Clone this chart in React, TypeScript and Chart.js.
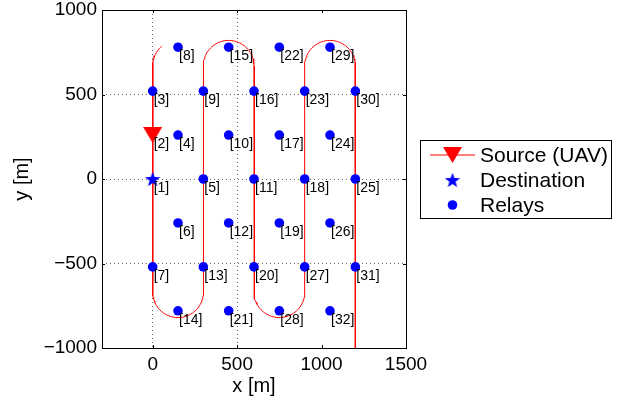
import React, { useEffect, useRef } from 'react';
import { Chart, registerables } from 'chart.js';

Chart.register(...registerables);

const FONT = '"Liberation Sans", Arial, Helvetica, sans-serif';

// Node coordinates [m]; node 1 = destination, node 2 = source, nodes 3..32 = relays
const NODE_X = [0, 0, 0, 150, 300, 150, 0, 150, 300, 450, 600, 450, 300, 150, 450, 600, 750, 900, 750, 600, 450, 750, 900, 1050, 1200, 1050, 900, 750, 1050, 1200, 1200, 1050];
const NODE_Y = [0, 260, 520, 260, 0, -260, -520, 780, 520, 260, 0, -260, -520, -780, 780, 520, 260, 0, -260, -520, -780, 780, 520, 260, 0, -260, -520, -780, 780, 520, -520, -780];
const DEST_INDEX = 0;
const SOURCE_INDEX = 1;

// Axes
const X_MIN = -300;
const X_MAX = 1500;
const Y_MIN = -1000;
const Y_MAX = 1000;
const X_TICKS = [0, 500, 1000, 1500];
const Y_TICKS = [-1000, -500, 0, 500, 1000];

// UAV trajectory: turn circles (centres), radius, start angle on first turn, end point
const TURN_X = [150, 150, 450, 750, 1050];
const TURN_Y = [670, -670, 670, -670, 670];
const TURN_RADIUS = 150;
const PATH_START_DEG = 130;
const PATH_END_X = 1200;
const PATH_END_Y = -1000;

const LEGEND_LABELS = ['Source (UAV)', 'Destination', 'Relays'];

function buildPath() {
  const pts: { x: number; y: number }[] = [];
  TURN_X.forEach((cx, i) => {
    const cy = TURN_Y[i];
    let a0: number, a1: number;
    if (i === 0) { a0 = PATH_START_DEG; a1 = 180; }
    else if (cy < 0) { a0 = 180; a1 = 360; }
    else { a0 = 180; a1 = 0; }
    const steps = Math.max(2, Math.round(Math.abs(a1 - a0) / 4));
    for (let k = 0; k <= steps; k++) {
      const a = ((a0 + ((a1 - a0) * k) / steps) * Math.PI) / 180;
      pts.push({ x: cx + TURN_RADIUS * Math.cos(a), y: cy + TURN_RADIUS * Math.sin(a) });
    }
  });
  pts.push({ x: PATH_END_X, y: PATH_END_Y });
  return pts;
}

function makeTriangle(color: string) {
  const c = document.createElement('canvas');
  c.width = 19; c.height = 16;
  const g = c.getContext('2d')!;
  g.fillStyle = color;
  g.beginPath();
  g.moveTo(0, 0); g.lineTo(19, 0); g.lineTo(9.5, 16); g.closePath();
  g.fill();
  return c;
}

function makeStar(color: string) {
  const c = document.createElement('canvas');
  c.width = 16; c.height = 16;
  const g = c.getContext('2d')!;
  g.fillStyle = color;
  g.beginPath();
  const R = 8, r = 3.3, cx = 8, cy = 8.7;
  for (let k = 0; k < 10; k++) {
    const rad = k % 2 === 0 ? R : r;
    const a = -Math.PI / 2 + (k * Math.PI) / 5;
    const px = cx + rad * Math.cos(a), py = cy + rad * Math.sin(a);
    if (k === 0) g.moveTo(px, py); else g.lineTo(px, py);
  }
  g.closePath();
  g.fill();
  return c;
}

const fmt = (v: any) => (Number(v) < 0 ? '\u2212' + Math.abs(Number(v)) : String(v));

export default function App() {
  const ref = useRef<HTMLCanvasElement | null>(null);

  useEffect(() => {
    const canvas = ref.current;
    if (!canvas) return;
    const tri = makeTriangle('#ff0000');
    const star = makeStar('#0000ff');

    const relays = NODE_X.map((x, i) => ({ x, y: NODE_Y[i], i })).filter((p) => p.i !== DEST_INDEX && p.i !== SOURCE_INDEX);

    const boxPlugin = {
      id: 'matlabBox',
      afterDatasetsDraw(chart: any) {
        const { ctx, scales } = chart;
        const xs = scales.x, ys = scales.y;
        ctx.save();
        ctx.font = `14px ${FONT}`;
        ctx.fillStyle = '#000';
        ctx.textAlign = 'left';
        ctx.textBaseline = 'middle';
        NODE_X.forEach((x, i) => {
          const px = xs.getPixelForValue(x);
          const py = ys.getPixelForValue(NODE_Y[i]);
          ctx.fillText(`[${i + 1}]`, px + 1, py + 9);
        });
        ctx.restore();
      },
      afterDraw(chart: any) {
        const { ctx, chartArea: a, scales } = chart;
        const xs = scales.x, ys = scales.y;
        ctx.save();
        ctx.strokeStyle = '#000';
        ctx.lineWidth = 1;
        ctx.strokeRect(Math.round(a.left) + 0.5, Math.round(a.top) + 0.5, Math.round(a.right - a.left), Math.round(a.bottom - a.top));
        ctx.beginPath();
        X_TICKS.forEach((v) => {
          const px = Math.round(xs.getPixelForValue(v)) + 0.5;
          ctx.moveTo(px, a.bottom); ctx.lineTo(px, a.bottom - 3);
          ctx.moveTo(px, a.top); ctx.lineTo(px, a.top + 3);
        });
        Y_TICKS.forEach((v) => {
          const py = Math.round(ys.getPixelForValue(v)) + 0.5;
          ctx.moveTo(a.left, py); ctx.lineTo(a.left + 3, py);
          ctx.moveTo(a.right, py); ctx.lineTo(a.right - 3, py);
        });
        ctx.stroke();

        // legend
        const L = 420.5, T = 140.5, W = 191, H = 78;
        ctx.fillStyle = '#fff';
        ctx.fillRect(L, T, W, H);
        ctx.strokeRect(L, T, W, H);
        const rows = [155, 180, 205];
        const mx = 452.5;
        const ds = chart.data.datasets;
        ctx.strokeStyle = ds[3].borderColor;
        ctx.lineWidth = 1;
        ctx.beginPath();
        ctx.moveTo(430, rows[0]); ctx.lineTo(475, rows[0]);
        ctx.stroke();
        ctx.drawImage(tri, mx - tri.width / 2, rows[0] - tri.height / 2);
        ctx.drawImage(star, mx - star.width / 2, rows[1] - star.height / 2);
        ctx.fillStyle = ds[2].backgroundColor;
        ctx.beginPath();
        ctx.arc(mx, rows[2], 4.8, 0, Math.PI * 2);
        ctx.fill();
        ctx.fillStyle = '#000';
        ctx.font = `21px ${FONT}`;
        ctx.textAlign = 'left';
        ctx.textBaseline = 'middle';
        LEGEND_LABELS.forEach((t, k) => ctx.fillText(t, 480, rows[k] + 1));
        ctx.restore();
      },
    };

    const gridColor = (c: any) => {
      const v = c.tick ? c.tick.value : 0;
      return v === X_MAX || v === Y_MAX || v === Y_MIN || v === X_MIN ? 'rgba(0,0,0,0)' : 'rgba(0,0,0,0.6)';
    };

    const chart = new Chart(canvas, {
      type: 'scatter',
      data: {
        datasets: [
          {
            label: LEGEND_LABELS[0],
            data: [{ x: NODE_X[SOURCE_INDEX], y: NODE_Y[SOURCE_INDEX] }],
            pointStyle: tri as any,
            order: 0,
          },
          {
            label: LEGEND_LABELS[1],
            data: [{ x: NODE_X[DEST_INDEX], y: NODE_Y[DEST_INDEX] }],
            pointStyle: star as any,
            order: 1,
          },
          {
            label: LEGEND_LABELS[2],
            data: relays.map((p) => ({ x: p.x, y: p.y })),
            pointStyle: 'circle',
            pointRadius: 4.8,
            borderWidth: 0,
            backgroundColor: '#0000ff',
            borderColor: '#0000ff',
            order: 2,
          },
          {
            label: 'path',
            data: buildPath(),
            showLine: true,
            pointRadius: 0,
            borderColor: '#ff0000',
            backgroundColor: '#ff0000',
            borderWidth: 1,
            tension: 0,
            order: 3,
          },
        ] as any,
      },
      options: {
        responsive: false,
        animation: false,
        events: [],
        layout: { padding: { top: 10, right: 211, left: 0, bottom: 0 } },
        plugins: { legend: { display: false }, tooltip: { enabled: false } },
        scales: {
          x: {
            type: 'linear',
            min: X_MIN,
            max: X_MAX,
            afterBuildTicks: (s: any) => { s.ticks = X_TICKS.map((v) => ({ value: v })); },
            afterFit: (s: any) => { s.height = 54; s.paddingLeft = 0; s.paddingRight = 0; },
            ticks: { font: { family: FONT, size: 19 }, color: '#000', padding: 5, maxRotation: 0, callback: fmt },
            grid: { color: gridColor, drawTicks: false, lineWidth: 1 },
            border: { display: false, dash: [1, 3] },
            title: { display: true, text: 'x [m]', font: { family: FONT, size: 20 }, color: '#000', padding: { top: 0, bottom: 4 } },
          },
          y: {
            type: 'linear',
            min: Y_MIN,
            max: Y_MAX,
            afterBuildTicks: (s: any) => { s.ticks = Y_TICKS.map((v) => ({ value: v })); },
            afterFit: (s: any) => { s.width = 102; s.paddingTop = 0; s.paddingBottom = 0; },
            ticks: { font: { family: FONT, size: 19 }, color: '#000', padding: 5, callback: fmt },
            grid: { color: gridColor, drawTicks: false, lineWidth: 1 },
            border: { display: false, dash: [1, 3] },
            title: { display: true, text: 'y [m]', font: { family: FONT, size: 20 }, color: '#000', padding: { top: 10, bottom: 0 } },
          },
        },
      } as any,
      plugins: [boxPlugin],
    });
    return () => chart.destroy();
  }, []);

  return (
    <canvas
      ref={ref}
      width={617}
      height={402}
      style={{ position: 'absolute', left: 0, top: 0, width: 617, height: 402, display: 'block', background: '#fff' }}
    />
  );
}
